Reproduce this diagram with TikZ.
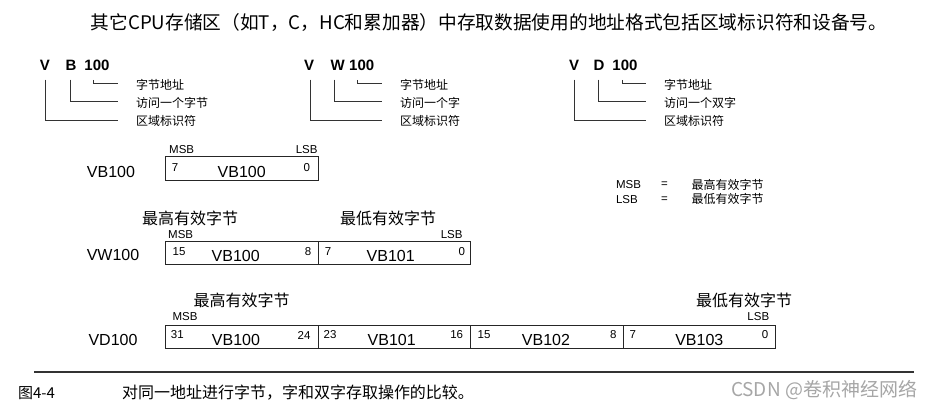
\documentclass[tikz,border=0pt]{standalone}
\usepackage{fontspec}
\setmainfont{Liberation Sans}
\newfontfamily\cjk{Noto Sans CJK SC}
\usetikzlibrary{calc}
\begin{document}
\begin{tikzpicture}[x=1pt,y=-1pt,
  every node/.style={inner sep=0pt, outer sep=0pt},
  cell/.style={draw=black!85, line width=0.9pt, anchor=north west, minimum height=23.4pt},
  num/.style={font=\fontsize{11.5}{12}\selectfont},
  vb/.style={font=\fontsize{16}{18}\selectfont},
  sb/.style={font=\fontsize{11.5}{12}\selectfont},
  head/.style={font=\cjk\fontsize{16}{18}\selectfont},
  lbl/.style={font=\cjk\fontsize{12}{14}\selectfont, anchor=west},
  big/.style={font=\bfseries\fontsize{15}{17}\selectfont},
  lead/.style={draw=black!80, line width=1pt},
  leg/.style={font=\fontsize{11.5}{12}\selectfont, anchor=west},
  legcn/.style={font=\cjk\fontsize{12}{14}\selectfont, anchor=west}]
\useasboundingbox (0,0) rectangle (935,408);
% title
\node[font=\cjk\fontsize{18.7}{20}\selectfont] (title) at (489,22) {其它CPU存储区（如T，C，HC和累加器）中存取数据使用的地址格式包括区域标识符和设备号。};
% group 1
\node[big] (v1) at (45,65) {V};
\node[big] (b1) at (71,65) {B};
\node[big] (n1) at (97,65) {100};
\node[lbl] (l1a) at (136,85) {字节地址};
\node[lbl] (l1b) at (136,103) {访问一个字节};
\node[lbl] (l1c) at (136,121) {区域标识符};
\draw[lead] ($(v1.south)+(0.7,9.5)$) |- ($(l1c.west)+(-18,-1)$);
\draw[lead] ($(b1.south)+(-1,9.5)$) |- ($(l1b.west)+(-18,-1.3)$);
\draw[lead] ($(n1.south)+(-3.7,9.5)$) |- ($(l1a.west)+(-18,-1.7)$);
% group 2
\node[big] (v2) at (309,65) {V};
\node[big] (w2) at (337.7,65) {W};
\node[big] (n2) at (361.7,65) {100};
\node[lbl] (l2a) at (400,85) {字节地址};
\node[lbl] (l2b) at (400,103) {访问一个字};
\node[lbl] (l2c) at (400,121) {区域标识符};
\draw[lead] ($(v2.south)+(1,9.5)$) |- ($(l2c.west)+(-18.3,-1)$);
\draw[lead] ($(w2.south)+(-3.7,9.5)$) |- ($(l2b.west)+(-18.3,-1.3)$);
\draw[lead] ($(n2.south)+(-4,9.5)$) |- ($(l2a.west)+(-18.3,-1.7)$);
% group 3
\node[big] (v3) at (574,65) {V};
\node[big] (d3) at (599,65) {D};
\node[big] (n3) at (625,65) {100};
\node[lbl] (l3a) at (664,85) {字节地址};
\node[lbl] (l3b) at (664,103) {访问一个双字};
\node[lbl] (l3c) at (664,121) {区域标识符};
\draw[lead] ($(v3.south)+(0,9.5)$) |- ($(l3c.west)+(-18,-1)$);
\draw[lead] ($(d3.south)+(-0.7,9.5)$) |- ($(l3b.west)+(-18,-1.3)$);
\draw[lead] ($(n3.south)+(-2.3,9.5)$) |- ($(l3a.west)+(-18,-1.7)$);
% row 1
\node[vb] (r1) at (111,172) {VB100};
\node[cell, minimum width=153pt] (c10) at (165.3,156.7) {};
\node[sb] (msb1) at (181.7,150) {MSB};
\node[sb] (lsb1) at (306.7,150) {LSB};
\node[num] (r1h) at (175,168) {7};
\node[vb] (r1t) at (241.7,172) {VB100};
\node[num] (r1l) at (306.7,168) {0};
% legend
\node[leg] (lm) at (616,185) {MSB};
\node[leg] (lme) at (661,185) {=};
\node[legcn] (lmt) at (691.7,185) {最高有效字节};
\node[leg] (ll) at (616,199.3) {LSB};
\node[leg] (lle) at (661,199.3) {=};
\node[legcn] (llt) at (691.7,199.3) {最低有效字节};
% row 2
\node[head] (h2a) at (190,218) {最高有效字节};
\node[head] (h2b) at (388,218) {最低有效字节};
\node[sb] (msb2) at (180.7,235) {MSB};
\node[sb] (lsb2) at (451.7,234.5) {LSB};
\node[vb] (r2) at (113,255) {VW100};
\node[cell, minimum width=153pt] (c20) at (165.3,241) {};
\node[cell, minimum width=152.4pt] (c21) at (318.3,241) {};
\node[num] at (179,251.7) {15};
\node[vb] at (235.7,255.5) {VB100};
\node[num] at (308,251.7) {8};
\node[num] at (328,251.7) {7};
\node[vb] at (390.7,255.5) {VB101};
\node[num] at (461.7,251.7) {0};
% row 3
\node[head] (h3a) at (241.7,300.7) {最高有效字节};
\node[head] (h3b) at (744,300.7) {最低有效字节};
\node[sb] (msb3) at (185,316.7) {MSB};
\node[sb] (lsb3) at (758.3,316.7) {LSB};
\node[vb] (r3) at (113,340) {VD100};
\node[cell, minimum width=152.6pt] (c30) at (165.7,325) {};
\node[cell, minimum width=152.4pt] (c31) at (318.3,325) {};
\node[cell, minimum width=152.6pt] (c32) at (470.7,325) {};
\node[cell, minimum width=152.4pt] (c33) at (623.3,325) {};
\node[num] at (177.3,335) {31};
\node[vb] at (236,340) {VB100};
\node[num] at (304,335) {24};
\node[num] at (330,335) {23};
\node[vb] at (391.7,340) {VB101};
\node[num] at (456.7,335) {16};
\node[num] at (484,335) {15};
\node[vb] at (546,340) {VB102};
\node[num] at (613.3,335) {8};
\node[num] at (632.7,335) {7};
\node[vb] at (699.3,340) {VB103};
\node[num] at (765,335) {0};
% rule and caption
\coordinate (ruleL) at (34,372);
\coordinate (ruleR) at (914,372);
\draw[line width=1.3pt, black!80] (ruleL) -- (ruleR);
\node[font=\cjk\fontsize{15}{17}\selectfont, anchor=west] (fig) at (18,393) {图4-4};
\node[font=\cjk\fontsize{16}{18}\selectfont, anchor=west] (cap) at (122,393) {对同一地址进行字节，字和双字存取操作的比较。};
\node[font=\cjk\fontsize{19}{21}\selectfont, anchor=east, text=black!35] (wm) at (917,390) {CSDN @卷积神经网络};
\end{tikzpicture}
\end{document}
